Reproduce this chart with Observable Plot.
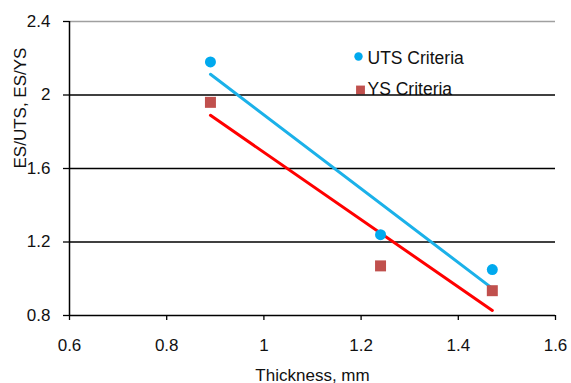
<!DOCTYPE html>
<html>
<head>
<meta charset="utf-8">
<script src="https://cdn.jsdelivr.net/npm/d3@7"></script>
<script src="https://cdn.jsdelivr.net/npm/@observablehq/plot@0.6"></script>
<style>
  html, body { margin: 0; padding: 0; background: #fff; }
  #chart svg { display: block; }
</style>
</head>
<body>
<div id="chart"></div>
<script>
// Data
const thickness = [0.89, 1.24, 1.47];
const utsCriteria = [2.18, 1.24, 1.05];
const ysCriteria = [1.96, 1.07, 0.935];
const seriesNames = ["UTS Criteria", "YS Criteria"];
const xTicks = [0.6, 0.8, 1.0, 1.2, 1.4, 1.6];
const yTicks = [0.8, 1.2, 1.6, 2.0, 2.4];
const gridValues = [1.2, 1.6, 2.0];
const xTitle = "Thickness, mm";
const yTitle = "ES/UTS, ES/YS";

const uts = thickness.map((x, i) => ({x, y: utsCriteria[i]}));
const ys = thickness.map((x, i) => ({x, y: ysCriteria[i]}));

const BLUE_DOT = "#00A9EE";
const BLUE_LINE = "#1BB1E9";
const RED_SQ = "#C0504D";
const RED_LINE = "#FF0000";
const fmt = d => String(+d.toFixed(1));

const chart = Plot.plot({
  width: 571,
  height: 383,
  marginLeft: 69,
  marginRight: 16,
  marginTop: 21,
  marginBottom: 68,
  style: {fontFamily: "'Liberation Sans', Arial, sans-serif", fontSize: "17px", color: "#111", background: "#fff"},
  x: {domain: [0.6, 1.6]},
  y: {domain: [0.8, 2.4]},
  marks: [
    // legend (drawn below gridlines, as in the reference)
    Plot.dot([0], {frameAnchor: "top-left", dx: 289, dy: 35, r: 4.2, fill: BLUE_DOT, stroke: "none"}),
    Plot.text([seriesNames[0]], {frameAnchor: "top-left", dx: 298, dy: 36.5, lineAnchor: "middle", textAnchor: "start", fill: "#111", fontSize: 17.5}),
    Plot.dot([0], {frameAnchor: "top-left", dx: 291, dy: 68.5, r: 5, symbol: "square", fill: RED_SQ, stroke: "none"}),
    Plot.text([seriesNames[1]], {frameAnchor: "top-left", dx: 298, dy: 67.5, lineAnchor: "middle", textAnchor: "start", fill: "#111", fontSize: 17.5}),
    // grid & frame
    Plot.ruleY([2.4], {stroke: "#a0a0a0", strokeWidth: 1.5}),
    Plot.ruleY(gridValues, {stroke: "#000", strokeWidth: 1.5}),
    Plot.ruleY([0.8], {stroke: "#000", strokeWidth: 1.5}),
    Plot.ruleX([0.6], {stroke: "#000", strokeWidth: 1.5}),
    Plot.axisX({ticks: xTicks, tickFormat: fmt, tickSize: 5, tickPadding: 18, label: null, stroke: "#000", strokeWidth: 1.3}),
    Plot.axisY({ticks: yTicks, tickFormat: fmt, tickSize: 6, tickPadding: 13, label: null, stroke: "#000", strokeWidth: 1.3}),
    // trend lines
    Plot.linearRegressionY(uts, {x: "x", y: "y", ci: 0, stroke: BLUE_LINE, strokeWidth: 3}),
    Plot.linearRegressionY(ys, {x: "x", y: "y", ci: 0, stroke: RED_LINE, strokeWidth: 3}),
    // points
    Plot.dot(uts, {x: "x", y: "y", r: 5.5, fill: BLUE_DOT, stroke: "none"}),
    Plot.dot(ys, {x: "x", y: "y", r: 6.2, symbol: "square", fill: RED_SQ, stroke: "none"}),
    // titles
    Plot.text([xTitle], {frameAnchor: "bottom", dy: 65, lineAnchor: "bottom", fill: "#111"}),
    Plot.text([yTitle], {frameAnchor: "left", dx: -49, rotate: -90, fill: "#111"})
  ]
});
document.getElementById("chart").appendChild(chart);
</script>
</body>
</html>
